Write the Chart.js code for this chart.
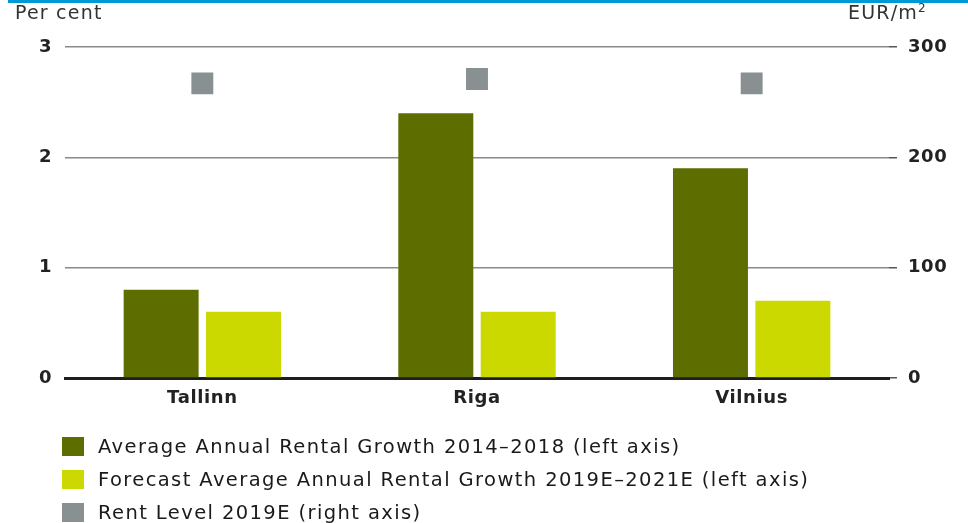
<!DOCTYPE html>
<html>
<head>
<meta charset="utf-8">
<script src="https://cdn.jsdelivr.net/npm/chart.js@4.4.1/dist/chart.umd.min.js"></script>
<style>
  html, body { margin: 0; padding: 0; background: #fff; }
  body { width: 968px; height: 523px; position: relative; overflow: hidden; font-family: "DejaVu Sans", sans-serif; color: #222; }
  #wrap { position: absolute; left: 0; top: 0; width: 968px; height: 523px; }
  .topbar { position: absolute; left: 8px; top: 0; width: 960px; height: 3px; background: #0099d8; }
  .unit { position: absolute; top: 1px; font-size: 19px; letter-spacing: 1.2px; color: #333; }
  .legend { position: absolute; left: 62px; top: 430px; font-size: 19.5px; letter-spacing: 1.4px; color: #1a1a1a; }
  .legend div { height: 33px; display: flex; align-items: center; white-space: nowrap; }
  .legend span.box { display: inline-block; width: 22px; height: 19px; margin-right: 14px; }
</style>
</head>
<body>
<div id="wrap"><canvas id="rentChart" width="968" height="523"></canvas></div>
<div class="topbar"></div>
<div class="unit" style="left:15px;">Per cent</div>
<div class="unit" style="left:848px;">EUR/m<sup style="font-size:12px;">2</sup></div>
<div class="legend" id="legend"></div>

<script>
// === 資料 ===
var cities = ['Tallinn', 'Riga', 'Vilnius'];
var growth2014_2018 = [0.8, 2.4, 1.9];
var forecast2019_2021 = [0.6, 0.6, 0.7];
var rentLevel2019 = [267, 271, 267];
var leftTicks = [0, 1, 2, 3];
var rightTicks = [0, 100, 200, 300];

var seriesNames = [
  'Average Annual Rental Growth 2014\u20132018 (left axis)',
  'Forecast Average Annual Rental Growth 2019E\u20132021E (left axis)',
  'Rent Level 2019E (right axis)'
];
var seriesColors = ['#5e6d00', '#cbd900', '#899092'];

// 圖例（HTML）
var legendEl = document.getElementById('legend');
seriesNames.forEach(function (name, i) {
  var row = document.createElement('div');
  row.innerHTML = '<span class="box" style="background:' + seriesColors[i] + '"></span>' + name;
  legendEl.appendChild(row);
});

var tickFont = { family: 'DejaVu Sans', size: 18, weight: 'bold' };

// 字距稍寬，接近原圖字型
var letterSpacingPlugin = {
  id: 'letterSpacing',
  beforeDraw: function (chart) { chart.ctx.letterSpacing = '0.6px'; }
};

new Chart(document.getElementById('rentChart').getContext('2d'), {
  type: 'bar',
  data: {
    labels: cities,
    datasets: [{
      label: seriesNames[0],
      data: growth2014_2018,
      backgroundColor: seriesColors[0],
      categoryPercentage: 0.6,
      barPercentage: 0.91,
      yAxisID: 'y'
    }, {
      label: seriesNames[1],
      data: forecast2019_2021,
      backgroundColor: seriesColors[1],
      categoryPercentage: 0.6,
      barPercentage: 0.91,
      yAxisID: 'y'
    }, {
      type: 'line',
      label: seriesNames[2],
      data: rentLevel2019,
      showLine: false,
      pointStyle: 'rect',
      pointRadius: 15.5,
      pointHoverRadius: 15.5,
      pointBorderWidth: 0,
      pointBackgroundColor: seriesColors[2],
      borderColor: seriesColors[2],
      yAxisID: 'y1'
    }]
  },
  plugins: [letterSpacingPlugin],
  options: {
    responsive: false,
    animation: false,
    layout: { padding: { top: 47, left: 0, right: 0, bottom: 0 } },
    plugins: {
      legend: { display: false },
      tooltip: { enabled: false }
    },
    scales: {
      x: {
        grid: { display: false },
        border: { display: true, color: '#1e1e1e', width: 3 },
        ticks: { font: tickFont, color: '#222', padding: 2 },
        afterFit: function (scale) { scale.height = 145; }
      },
      y: {
        position: 'left',
        min: 0,
        max: 3,
        afterBuildTicks: function (scale) {
          scale.ticks = leftTicks.map(function (v) { return { value: v }; });
        },
        grid: {
          drawTicks: false,
          color: function (ctx) { return ctx.tick && ctx.tick.value === 0 ? 'rgba(0,0,0,0)' : '#8a8a8a'; },
          lineWidth: 1.5
        },
        border: { display: false },
        ticks: { font: tickFont, color: '#222', padding: 13 },
        afterFit: function (scale) { scale.width = 65; }
      },
      y1: {
        position: 'right',
        min: 0,
        max: 300,
        afterBuildTicks: function (scale) {
          scale.ticks = rightTicks.map(function (v) { return { value: v }; });
        },
        grid: {
          drawOnChartArea: false,
          drawTicks: true,
          tickLength: 8,
          color: '#555',
          lineWidth: 1.5
        },
        border: { display: false },
        ticks: { font: tickFont, color: '#222', padding: 11 },
        afterFit: function (scale) { scale.width = 79; }
      }
    }
  }
});
</script>
</body>
</html>
